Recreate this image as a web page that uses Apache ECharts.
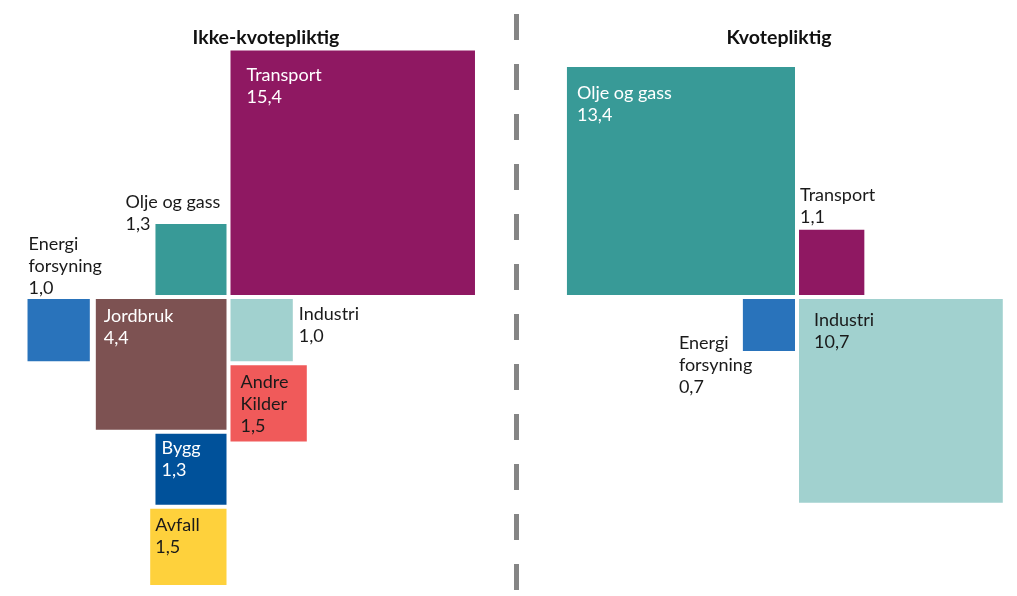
<!DOCTYPE html>
<html><head><meta charset="utf-8">
<script src="https://cdn.jsdelivr.net/npm/echarts@6/dist/echarts.min.js"></script>
<style>html,body{margin:0;padding:0;background:#fff}#c{width:1017px;height:596px}</style>
</head><body><div id="c"></div>
<script>
// ---- data ----
const groupTitles = ['Ikke-kvotepliktig', 'Kvotepliktig'];
const leftCategories = ['Transport', 'Olje og gass', 'Jordbruk', 'Industri', 'Andre Kilder', 'Bygg', 'Avfall', 'Energi forsyning'];
const leftValues = [15.4, 1.3, 4.4, 1.0, 1.5, 1.3, 1.5, 1.0];
const rightCategories = ['Olje og gass', 'Transport', 'Energi forsyning', 'Industri'];
const rightValues = [13.4, 1.1, 0.7, 10.7];

// ---- styles ----
const colors = {
  'Transport': '#8f1862',
  'Olje og gass': '#389a97',
  'Energi forsyning': '#2973bb',
  'Jordbruk': '#7d5252',
  'Industri': '#a1d1cf',
  'Andre Kilder': '#f05a5a',
  'Bygg': '#00519a',
  'Avfall': '#fed13c'
};
const labelNames = { 'Energi forsyning': 'Energi\nforsyning', 'Andre Kilder': 'Andre\nKilder' };
const LIGHT = '#ffffff', DARK = '#1a1a1a';
const FONT = '18px Lato';
const LINE_H = 22;
const DY = 3;

// ---- layout (pixels per sqrt unit of value; squares' area ~ value) ----
const W = 1017, H = 596, PX = 62.3;
const u = p => p / PX;
const GAP = u(4);

const groups = [
  {
    cats: leftCategories, vals: leftValues, anchor: [u(228.5), u(297)],
    place: {
      'Transport': { q: 'TR' },
      'Olje og gass': { q: 'TL' },
      'Jordbruk': { q: 'BL' },
      'Industri': { q: 'BR' },
      'Andre Kilder': { below: 'Industri', align: 'left' },
      'Bygg': { below: 'Jordbruk', align: 'right' },
      'Avfall': { below: 'Bygg', align: 'right' },
      'Energi forsyning': { leftOf: 'Jordbruk', gap: u(6) }
    },
    label: {
      'Transport': { dx: 16, dy: 11, c: LIGHT },
      'Olje og gass': { dx: -30, dy: -36, c: DARK },
      'Jordbruk': { dx: 8, dy: 3, c: LIGHT },
      'Industri': { dx: 6, dy: 1, from: 'right', c: DARK },
      'Andre Kilder': { dx: 10, dy: 3, c: DARK },
      'Bygg': { dx: 6, dy: 1, c: LIGHT },
      'Avfall': { dx: 5, dy: 2, c: DARK },
      'Energi forsyning': { dx: 1, dy: -69, c: DARK }
    }
  },
  {
    cats: rightCategories, vals: rightValues, anchor: [u(797), u(297)],
    place: {
      'Olje og gass': { q: 'TL' },
      'Transport': { q: 'TR' },
      'Energi forsyning': { q: 'BL' },
      'Industri': { q: 'BR' }
    },
    label: {
      'Olje og gass': { dx: 10, dy: 12, c: LIGHT },
      'Transport': { dx: 1, dy: -48, c: DARK },
      'Energi forsyning': { dx: -64, dy: 30, c: DARK },
      'Industri': { dx: 15, dy: 7, c: DARK }
    }
  }
];

const items = [];
groups.forEach(g => {
  const boxes = {};
  const [ax, ay] = g.anchor;
  const h = GAP / 2;
  g.cats.forEach((name, i) => {
    const v = g.vals[i];
    const s = Math.sqrt(v);
    const r = g.place[name];
    let x0, y0;
    if (r.q) {
      x0 = r.q[1] === 'R' ? ax + h : ax - h - s;
      y0 = r.q[0] === 'T' ? ay - h - s : ay + h;
    } else if (r.below) {
      const b = boxes[r.below];
      y0 = b.y0 + b.s + GAP;
      x0 = r.align === 'left' ? b.x0 : b.x0 + b.s - s;
    } else if (r.leftOf) {
      const b = boxes[r.leftOf];
      x0 = b.x0 - r.gap - s;
      y0 = b.y0;
    }
    boxes[name] = { x0, y0, s };
    items.push({
      name,
      value: [x0, y0, s, v],
      color: colors[name],
      text: (labelNames[name] || name) + '\n' + v.toFixed(1).replace('.', ','),
      lb: g.label[name]
    });
  });
});

const chart = echarts.init(document.getElementById('c'), null, { renderer: 'canvas' });
chart.setOption({
  animation: false,
  backgroundColor: '#ffffff',
  grid: { left: 0, right: 0, top: 0, bottom: 0 },
  xAxis: { type: 'value', min: 0, max: W / PX, show: false },
  yAxis: { type: 'value', min: 0, max: H / PX, inverse: true, show: false },
  series: [{
    type: 'custom',
    encode: { x: 0, y: 1 },
    data: items.map(it => ({ name: it.name, value: it.value })),
    renderItem: function (params, api) {
      const it = items[params.dataIndex];
      const p = api.coord([api.value(0), api.value(1)]);
      const sz = api.size([api.value(2), api.value(2)]);
      const lb = it.lb;
      const tx = (lb.from === 'right' ? p[0] + sz[0] : p[0]) + lb.dx;
      const ty = p[1] + lb.dy + DY;
      return {
        type: 'group',
        children: [
          { type: 'rect', shape: { x: p[0], y: p[1], width: sz[0], height: sz[1] }, style: { fill: it.color } },
          {
            type: 'text', x: tx, y: ty,
            style: { text: it.text, fill: lb.c, font: FONT, lineHeight: LINE_H, verticalAlign: 'top', align: 'left' }
          }
        ]
      };
    }
  }],
  graphic: [
    { type: 'line', shape: { x1: 516.5, y1: 14, x2: 516.5, y2: 596 }, style: { stroke: '#858585', lineWidth: 5, lineDash: [26, 24] } },
    { type: 'text', x: 266, y: 38, style: { text: groupTitles[0], font: 'bold 19.5px Lato', fill: '#111', align: 'center', verticalAlign: 'middle' } },
    { type: 'text', x: 779, y: 38, style: { text: groupTitles[1], font: 'bold 19.5px Lato', fill: '#111', align: 'center', verticalAlign: 'middle' } }
  ]
});
</script>
</body></html>
